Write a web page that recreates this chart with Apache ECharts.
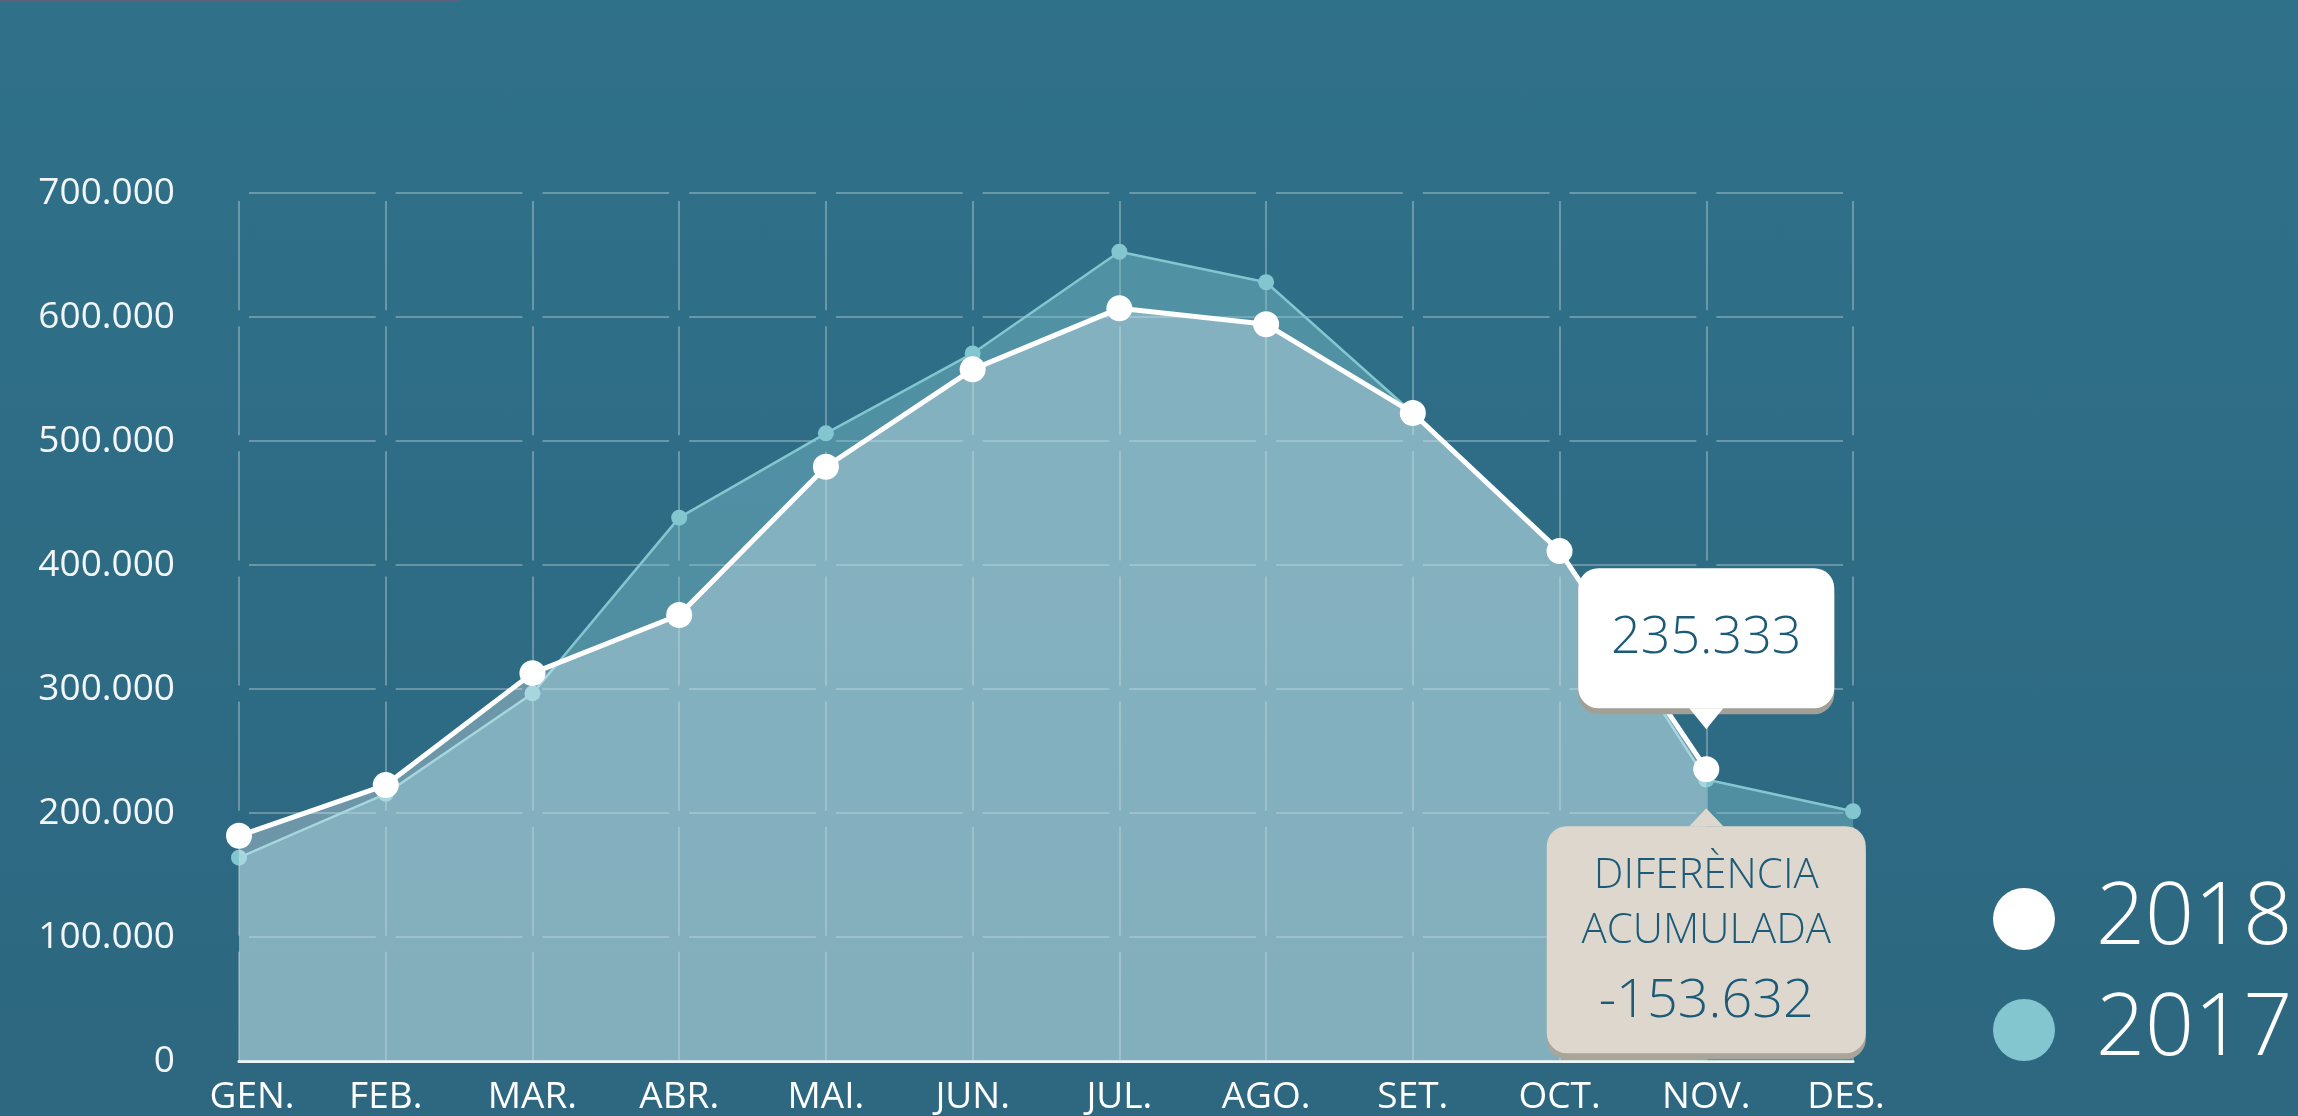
<!DOCTYPE html>
<html>
<head>
<meta charset="utf-8">
<script src="https://cdn.jsdelivr.net/npm/echarts@6/dist/echarts.min.js"></script>
<style>
  html, body { margin: 0; padding: 0; }
  #chart { width: 2298px; height: 1116px; background: linear-gradient(to bottom, #2f7189 0%, #2d6780 100%); }
</style>
</head>
<body>
<div id="chart"></div>
<script>
// ---- data ----
const months = ['GEN.', 'FEB.', 'MAR.', 'ABR.', 'MAI.', 'JUN.', 'JUL.', 'AGO.', 'SET.', 'OCT.', 'NOV.', 'DES.'];
const val2018 = [181600, 222500, 312800, 359700, 479200, 557800, 607000, 594100, 522600, 411200, 235333, '-'];
const val2017 = [164000, 215500, 296400, 438200, 506200, 570600, 652600, 628000, 522600, 411000, 227000, 201400];
const seriesNames = ['2018', '2017'];
const yMin = 0, yMax = 700000, yStep = 100000;
const lastValueLabel = '235.333';
const diffLines = ['DIFERÈNCIA', 'ACUMULADA', '-153.632'];
const highlightIndex = 10;

// ---- style ----
const FONT = "'Open Sans', 'Noto Sans', sans-serif";
const gridLeft = 239, gridTop = 193, gridW = 1614, gridH = 876;
const colW = gridW / (months.length - 1);
const rowH = gridH / ((yMax - yMin) / yStep);
const fmt = v => v === 0 ? '0' : String(v).replace(/\B(?=(\d{3})+(?!\d))/g, '.');
const xLabelStyle = { color: '#ffffff', fontSize: 37, fontFamily: FONT };

const chart = echarts.init(document.getElementById('chart'), null, { renderer: 'canvas' });

function legendFor(name, top) {
  return {
    data: [name],
    orient: 'vertical',
    left: 1988,
    top: top,
    icon: 'circle',
    itemWidth: 62,
    itemHeight: 62,
    textStyle: { color: '#ffffff', fontSize: 86, fontWeight: 300, fontFamily: FONT, padding: [0, 0, 0, 36] }
  };
}

chart.setOption({
  backgroundColor: 'transparent',
  animation: false,
  grid: { left: gridLeft, top: gridTop, width: gridW, height: gridH, containLabel: false },
  legend: [legendFor(seriesNames[0], 871), legendFor(seriesNames[1], 982)],
  xAxis: {
    type: 'category',
    data: months,
    boundaryGap: false,
    axisLine: { show: true, lineStyle: { color: 'rgba(255,255,255,0.92)', width: 3 } },
    axisTick: { show: false },
    axisLabel: Object.assign({}, xLabelStyle, {
      interval: 0,
      hideOverlap: false,
      margin: 18,
      formatter: (v, i) => i === 0 ? '{first|' + v + '}' : (i === months.length - 1 ? '{last|' + v + '}' : v),
      rich: {
        first: Object.assign({}, xLabelStyle, { padding: [0, 0, 0, 26] }),
        last: Object.assign({}, xLabelStyle, { padding: [0, 14, 0, 0] })
      }
    }),
    splitLine: {
      show: true,
      interval: 0,
      lineStyle: { color: 'rgba(255,255,255,0.38)', width: 1.5, type: [rowH - 16, 16], dashOffset: rowH - 16 + 8 }
    }
  },
  yAxis: {
    type: 'value',
    min: yMin, max: yMax, interval: yStep,
    axisLine: { show: false },
    axisTick: { show: false },
    axisLabel: { color: '#f2f6f8', fontSize: 37, fontFamily: FONT, margin: 64, padding: [6, 0, 0, 0], formatter: fmt },
    splitLine: {
      show: true,
      lineStyle: { color: 'rgba(255,255,255,0.38)', width: 1.5, type: [colW - 20, 20], dashOffset: colW - 20 + 10 }
    }
  },
  series: [
    {
      name: '2017',
      type: 'line',
      data: val2017,
      symbol: 'circle',
      symbolSize: 16,
      itemStyle: { color: '#84c6d0' },
      lineStyle: { color: '#84c6d0', width: 2.5 },
      areaStyle: { color: 'rgba(132,198,208,0.40)', opacity: 1 },
      z: 2
    },
    {
      name: '2018',
      type: 'line',
      data: val2018,
      symbol: 'circle',
      symbolSize: 26,
      itemStyle: { color: '#ffffff' },
      lineStyle: { color: '#ffffff', width: 5 },
      areaStyle: { color: 'rgba(250,253,255,0.31)', opacity: 1 },
      z: 3
    }
  ]
});

// ---- annotation bubbles anchored at the highlighted 2018 point ----
const p = chart.convertToPixel({ gridIndex: 0 }, [months[highlightIndex], val2018[highlightIndex]]);
const px = p[0], py = p[1];
const TXT = '#1b5b78';

function bubble(x, y, w, h, tipY, color, shadow, down) {
  const baseY = down ? y + h : y;
  const poly = [[x + w / 2 - 17, baseY], [x + w / 2 + 17, baseY], [x + w / 2, tipY]];
  return [
    { type: 'rect', shape: { x: x, y: y + 6, width: w, height: h, r: 20 }, style: { fill: shadow }, z: 100 },
    { type: 'rect', shape: { x: x, y: y, width: w, height: h, r: 20 }, style: { fill: color }, z: 101 },
    { type: 'polygon', shape: { points: poly }, style: { fill: color }, z: 101 }
  ];
}

const wW = 256, wH = 140;
const wX = px - wW / 2, wY = py - 61 - wH;
const bW = 319, bH = 227;
const bX = px - bW / 2, bY = py + 57;

const graphics = []
  .concat(bubble(wX, wY, wW, wH, py - 40, '#ffffff', '#a29f96', true))
  .concat(bubble(bX, bY, bW, bH, py + 39, '#ded7cd', '#aaa599', false));

graphics.push({
  type: 'text', z: 102,
  style: { text: lastValueLabel, x: px, y: wY + wH / 2, textAlign: 'center', textVerticalAlign: 'middle',
           fill: TXT, fontSize: 52, fontWeight: 300, fontFamily: FONT }
});
const lineY = [bY + 50, bY + 105, bY + 175];
const lineSize = [42, 42, 54];
diffLines.forEach((t, i) => {
  graphics.push({
    type: 'text', z: 102,
    style: { text: t, x: px, y: lineY[i], textAlign: 'center', textVerticalAlign: 'middle',
             fill: TXT, fontSize: lineSize[i], fontWeight: 300, fontFamily: FONT }
  });
});
// thin line at the very top-left edge
graphics.push({ type: 'rect', shape: { x: 0, y: 0, width: 460, height: 2 }, style: { fill: '#5d5f7e' }, z: 1 });

chart.setOption({ graphic: graphics });
</script>
</body>
</html>
